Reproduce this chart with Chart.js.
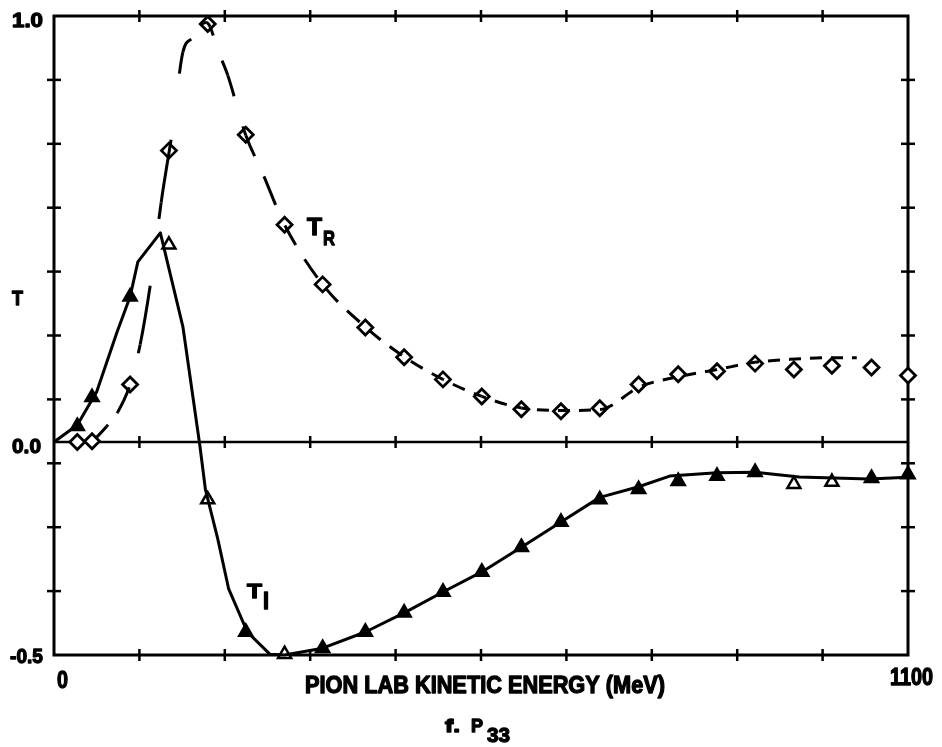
<!DOCTYPE html>
<html>
<head>
<meta charset="utf-8">
<title>P33</title>
<script src="https://cdn.jsdelivr.net/npm/chart.js@4/dist/chart.umd.min.js"></script>
<style>
  html, body { margin: 0; padding: 0; background: #fff; }
  canvas { display: block; }
</style>
</head>
<body>
<canvas id="grafico" width="942" height="747"></canvas>
<script>
// energia cinetica del pion (MeV) de los puntos de ondas parciales
const energiaPuntos = [30, 49, 98, 148, 198, 247, 297, 346, 401, 451, 501, 551, 602, 653, 703, 753, 804, 854, 903, 953, 1002, 1053, 1100];
const puntosTR = [0.0, 0.002, 0.135, 0.684, 0.981, 0.721, 0.51, 0.37, 0.269, 0.199, 0.147, 0.107, 0.077, 0.072, 0.079, 0.135, 0.159, 0.166, 0.184, 0.17, 0.179, 0.175, 0.156];
const puntosTI = [0.037, 0.105, 0.341, 0.463, -0.135, -0.446, -0.498, -0.484, -0.446, -0.401, -0.352, -0.305, -0.247, -0.188, -0.135, -0.111, -0.092, -0.08, -0.071, -0.099, -0.094, -0.085, -0.076];

// curvas del ajuste
const curvaTRx = [49, 68, 82, 98, 111, 126, 138, 153, 166, 179, 187, 196, 201, 210, 224, 237, 247, 268, 297, 346, 401, 451, 501, 551, 602, 653, 703, 755, 806, 854, 903, 948, 1000, 1034];
const curvaTRy = [0.0, 0.037, 0.07, 0.135, 0.229, 0.393, 0.562, 0.737, 0.915, 0.95, 0.975, 0.985, 0.975, 0.925, 0.86, 0.78, 0.72, 0.634, 0.51, 0.37, 0.27, 0.2, 0.147, 0.107, 0.08, 0.074, 0.076, 0.13, 0.154, 0.17, 0.187, 0.194, 0.198, 0.198];
const curvaTIx = [0, 30, 55, 81, 98, 108, 137, 166, 188, 195, 211, 225, 249, 278, 297, 346, 401, 451, 501, 551, 602, 653, 703, 753, 793, 854, 903, 960, 1050, 1100];
const curvaTIy = [0, 0.04, 0.118, 0.257, 0.341, 0.423, 0.491, 0.271, -0.01, -0.111, -0.228, -0.345, -0.446, -0.498, -0.5, -0.484, -0.446, -0.401, -0.352, -0.305, -0.247, -0.188, -0.13, -0.105, -0.08, -0.072, -0.071, -0.082, -0.087, -0.083];

// marcas de los ejes
const marcasX = [0, 110, 220, 330, 440, 550, 660, 770, 880, 990, 1100];
const marcasY = [-0.5, -0.35, -0.2, -0.05, 0.1, 0.25, 0.4, 0.55, 0.7, 0.85, 1.0];

const pares = (xs, ys) => xs.map((x, i) => ({ x: x, y: ys[i] }));

// triangulos huecos
const huecos = [3, 4, 6, 19, 20];
const rellenoTI = energiaPuntos.map((e, i) => huecos.includes(i) ? '#fff' : '#000');

// el trazo discontinuo se mide en x: 12 px de trazo, 9 de hueco
const PASO = 21;
function factorGuion(c) {
    const dx = Math.abs(c.p1.x - c.p0.x) || 1;
    return Math.hypot(c.p1.x - c.p0.x, c.p1.y - c.p0.y) / dx;
}

// texto en negrita ajustado a un ancho dado, con un trazo para engrosarlo
function texto(ctx, str, izq, der, base, size) {
    ctx.font = `bold ${size}px "Liberation Sans", Arial, sans-serif`;
    const w = ctx.measureText(str).width;
    ctx.save();
    ctx.translate(izq, base);
    ctx.scale((der - izq) / w, 1);
    ctx.lineWidth = 1.3;
    ctx.lineJoin = 'round';
    ctx.fillText(str, 0, 0);
    ctx.strokeText(str, 0, 0);
    ctx.restore();
}

function linea(ctx, x1, y1, x2, y2) {
    ctx.beginPath();
    ctx.moveTo(x1, y1);
    ctx.lineTo(x2, y2);
    ctx.stroke();
}

const ejes = {
    id: 'ejes',
    beforeDatasetsDraw(chart) {
        const { ctx, chartArea: a, scales: { x, y } } = chart;
        ctx.save();
        ctx.strokeStyle = '#000';
        ctx.lineWidth = 3;
        ctx.strokeRect(a.left, a.top, a.right - a.left, a.bottom - a.top);

        const y0 = y.getPixelForValue(0);
        ctx.lineWidth = 2.5;
        linea(ctx, a.left, y0, a.right, y0);

        marcasX.slice(1, -1).forEach(v => {
            const px = x.getPixelForValue(v);
            linea(ctx, px, a.top - 6, px, a.top + 6);
            linea(ctx, px, a.bottom - 6, px, a.bottom + 6);
            linea(ctx, px, y0 - 6, px, y0 + 6);
        });
        marcasY.slice(1, -1).forEach(v => {
            const py = y.getPixelForValue(v);
            linea(ctx, a.left - 7, py, a.left + 7, py);
            linea(ctx, a.right - 7, py, a.right + 7, py);
        });
        ctx.restore();
    },
    afterDraw(chart) {
        const ctx = chart.ctx;
        ctx.save();
        ctx.fillStyle = '#000';
        ctx.strokeStyle = '#000';
        ctx.textAlign = 'left';
        ctx.textBaseline = 'alphabetic';
        texto(ctx, '1.0', 12, 43, 27, 20);
        texto(ctx, '0.0', 12, 41, 453, 21);
        texto(ctx, '-0.5', 10, 43, 663, 21);
        texto(ctx, 'T', 12, 23, 305, 21);
        texto(ctx, '0', 57, 68, 688, 24);
        texto(ctx, '1100', 890, 933, 685, 23);
        texto(ctx, 'PION LAB KINETIC ENERGY (MeV)', 305, 665, 693, 23);
        texto(ctx, 'T', 307, 322, 235, 23);
        texto(ctx, 'R', 323, 335, 245, 21);
        texto(ctx, 'T', 247, 262, 598, 21);
        texto(ctx, 'I', 263, 269, 609, 23);
        texto(ctx, 'f.', 445, 460, 732, 19);
        texto(ctx, 'P', 471, 483, 732, 19);
        texto(ctx, '33', 487, 510, 742, 20);
        ctx.restore();
    }
};

const ctx = document.getElementById('grafico').getContext('2d');

const grafico = new Chart(ctx, {
    type: 'scatter',
    data: {
        datasets: [
            {
                label: 'TR ajuste',
                data: pares(curvaTRx, curvaTRy),
                showLine: true,
                pointRadius: 0,
                borderColor: '#000',
                borderWidth: 3,
                cubicInterpolationMode: 'monotone',
                clip: false,
                segment: {
                    borderDash: c => { const f = factorGuion(c); return [12 * f, 9 * f]; },
                    borderDashOffset: c => ((c.p0.x - 54) % PASO) * factorGuion(c)
                }
            },
            {
                label: 'TI ajuste',
                data: pares(curvaTIx, curvaTIy),
                showLine: true,
                pointRadius: 0,
                borderColor: '#000',
                borderWidth: 3,
                tension: 0,
                borderJoinStyle: 'round',
                clip: false
            },
            {
                label: 'TR',
                data: pares(energiaPuntos, puntosTR),
                pointStyle: 'rectRot',
                pointRadius: 7.5,
                pointBorderWidth: 2.8,
                pointBorderColor: '#000',
                pointBackgroundColor: '#fff',
                clip: false
            },
            {
                label: 'TI',
                data: pares(energiaPuntos, puntosTI),
                pointStyle: 'triangle',
                pointRadius: 7.5,
                pointBorderWidth: 2.5,
                pointBorderColor: '#000',
                pointBackgroundColor: rellenoTI,
                clip: false
            }
        ]
    },
    options: {
        responsive: false,
        animation: false,
        devicePixelRatio: 1,
        layout: { padding: { left: 54, right: 34, top: 16, bottom: 92 } },
        plugins: {
            legend: { display: false },
            tooltip: { enabled: false }
        },
        scales: {
            x: { type: 'linear', min: 0, max: 1100, display: false },
            y: { type: 'linear', min: -0.5, max: 1.0, display: false }
        }
    },
    plugins: [ejes]
});
</script>
</body>
</html>
